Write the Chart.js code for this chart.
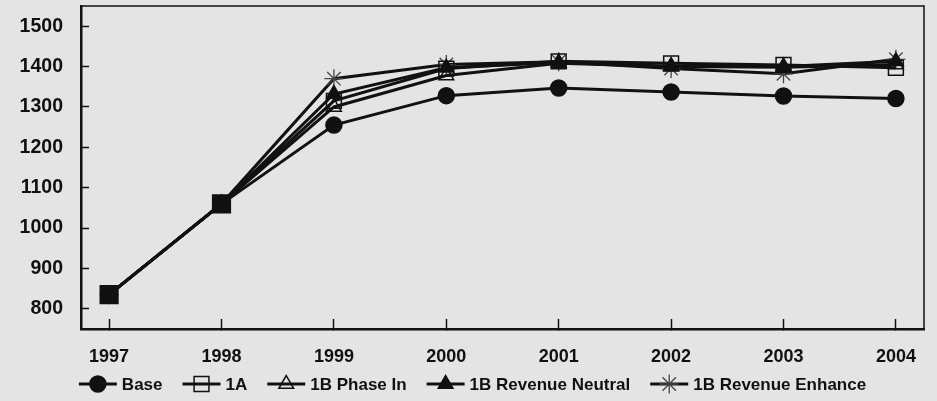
<!DOCTYPE html>
<html>
<head>
<meta charset="utf-8">
<script src="https://cdn.jsdelivr.net/npm/chart.js@4/dist/chart.umd.min.js"></script>
<style>
  html, body { margin: 0; padding: 0; background: #e4e4e4; }
  #wrap { width: 937px; height: 401px; }
</style>
</head>
<body>
<div id="wrap"><canvas id="chart" width="937" height="401"></canvas></div>
<script>
// data
const years = [1997, 1998, 1999, 2000, 2001, 2002, 2003, 2004];
const base = [835, 1060, 1255, 1328, 1347, 1337, 1327, 1321];
const alt1A = [835, 1060, 1315, 1395, 1413, 1408, 1404, 1397];
const phaseIn = [835, 1060, 1300, 1378, 1408, 1400, 1398, 1405];
const revNeutral = [835, 1060, 1332, 1397, 1410, 1401, 1400, 1413];
const revEnhance = [835, 1060, 1370, 1405, 1412, 1395, 1382, 1418];
const yTicks = [800, 900, 1000, 1100, 1200, 1300, 1400, 1500];

const BG = '#e4e4e4';
const INK = '#111111';
const FONT = '"Liberation Sans", Arial, sans-serif';

const pts = arr => arr.map((v, i) => ({ x: years[i], y: v }));

function series(label, values, style) {
    return Object.assign({
        label: label,
        data: pts(values),
        borderColor: INK,
        borderWidth: 3,
        pointBorderColor: INK,
        pointBorderWidth: 1.5,
        pointHoverRadius: 8,
        tension: 0
    }, style);
}

const datasets = [
    series('Base', base, { pointStyle: 'circle', pointRadius: 8, pointBackgroundColor: INK }),
    series('1A', alt1A, {
        pointStyle: 'rect',
        // the first two years show as one big solid square where all markers overlap
        pointRadius: c => c.dataIndex < 2 ? 12.5 : 10.5,
        pointBackgroundColor: c => c.dataIndex < 2 ? INK : 'rgba(0,0,0,0)',
        legendRadius: 10.5, legendFill: 'rgba(0,0,0,0)'
    }),
    series('1B Phase In', phaseIn, { pointStyle: 'triangle', pointRadius: 8.5, pointBackgroundColor: 'rgba(0,0,0,0)' }),
    series('1B Revenue Neutral', revNeutral, { pointStyle: 'triangle', pointRadius: 8.5, pointBackgroundColor: INK }),
    series('1B Revenue Enhance', revEnhance, { pointStyle: 'star', pointRadius: 9.5, pointBorderColor: '#444', pointBorderWidth: 1.3, pointBackgroundColor: 'rgba(0,0,0,0)' })
];

// background, top/right frame and the legend under the axis
const decor = {
    id: 'decor',
    beforeDraw(chart) {
        const ctx = chart.ctx;
        ctx.save();
        ctx.fillStyle = BG;
        ctx.fillRect(0, 0, chart.width, chart.height);
        ctx.restore();
    },
    afterDraw(chart) {
        const ctx = chart.ctx;
        const a = chart.chartArea;
        ctx.save();
        ctx.strokeStyle = INK;
        ctx.lineWidth = 1.5;
        ctx.beginPath();
        ctx.moveTo(a.left, a.top);
        ctx.lineTo(a.right, a.top);
        ctx.lineTo(a.right, a.bottom);
        ctx.stroke();

        // legend
        ctx.font = 'bold 17px ' + FONT;
        ctx.textBaseline = 'middle';
        const lineLen = 38, gapIn = 5, gapOut = 20;
        const items = chart.data.datasets.map(ds => ({ ds, w: ctx.measureText(ds.label).width }));
        const total = items.reduce((s, it) => s + lineLen + gapIn + it.w, 0) + gapOut * (items.length - 1);
        let x = (chart.width - total) / 2 + 4;
        const y = 384;
        items.forEach(it => {
            const ds = it.ds;
            ctx.strokeStyle = INK;
            ctx.lineWidth = 3;
            ctx.beginPath();
            ctx.moveTo(x, y);
            ctx.lineTo(x + lineLen, y);
            ctx.stroke();
            const r = ds.legendRadius || (typeof ds.pointRadius === 'number' ? ds.pointRadius : 9);
            const fill = ds.legendFill || ds.pointBackgroundColor;
            ctx.fillStyle = fill;
            ctx.strokeStyle = ds.pointBorderColor;
            ctx.lineWidth = ds.pointBorderWidth;
            Chart.helpers.drawPoint(ctx, { pointStyle: ds.pointStyle, radius: r, borderWidth: ds.pointBorderWidth, rotation: 0 }, x + lineLen / 2, y);
            ctx.fillStyle = INK;
            ctx.fillText(ds.label, x + lineLen + gapIn, y + 1);
            x += lineLen + gapIn + it.w + gapOut;
        });
        ctx.restore();
    }
};

// pin the plot box: no extra label padding from the scales
function noPad(s) {
    s.paddingTop = 0;
    s.paddingBottom = 0;
    s.paddingLeft = 0;
    s.paddingRight = 0;
}

new Chart(document.getElementById('chart'), {
    type: 'line',
    data: { datasets: datasets },
    options: {
        responsive: false,
        animation: false,
        layout: { autoPadding: false, padding: { top: 6, right: 13, left: 0, bottom: 0 } },
        plugins: {
            legend: { display: false },
            tooltip: { enabled: false }
        },
        scales: {
            x: {
                type: 'linear',
                min: 1996.75,
                max: 2004.25,
                afterBuildTicks: s => { s.ticks = years.map(v => ({ value: v })); },
                afterFit: s => { s.height = 72; noPad(s); },
                border: { color: INK, width: 2.5 },
                grid: { drawOnChartArea: false, drawTicks: true, tickLength: -10, tickColor: INK, tickWidth: 1.5 },
                ticks: {
                    padding: 27,
                    color: INK,
                    font: { family: FONT, size: 18, weight: 'bold' },
                    callback: v => String(v)
                }
            },
            y: {
                min: 750,
                max: 1550,
                afterBuildTicks: s => { s.ticks = yTicks.map(v => ({ value: v })); },
                afterFit: s => { s.width = 81; noPad(s); },
                border: { color: INK, width: 2.5 },
                grid: { drawOnChartArea: false, drawTicks: true, tickLength: -8, tickColor: INK, tickWidth: 1.5 },
                ticks: {
                    padding: 26,
                    color: INK,
                    font: { family: FONT, size: 19.5, weight: 'bold' },
                    callback: v => String(v)
                }
            }
        }
    },
    plugins: [decor]
});
</script>
</body>
</html>
